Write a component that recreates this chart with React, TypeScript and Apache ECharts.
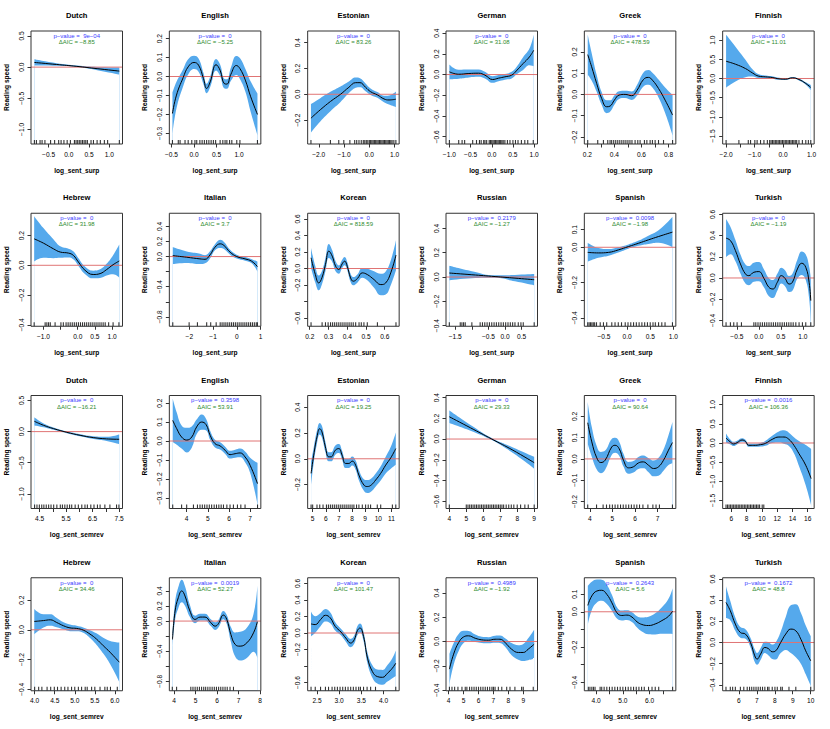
import React, { useEffect, useRef } from "react";
import * as echarts from "echarts";

const FONT = "'Liberation Sans', Arial, Helvetica, sans-serif";
const BAND = "#55a9ec";
const ZERO_LINE = "#e07474";

// ---------- y-axis settings per language ----------
const Y_DUTCH = { lim: [-1.235, 0.58], ticks: [-1, -0.5, 0, 0.5], labels: [-1, -0.5, 0, 0.5] };
const Y_ENGLISH = { lim: [-0.356, 0.24], ticks: [-0.3, -0.2, -0.1, 0, 0.1, 0.2], labels: [-0.3, -0.2, -0.1, 0, 0.1, 0.2] };
const Y_ESTONIAN = { lim: [-0.385, 0.49], ticks: [-0.2, 0, 0.2, 0.4], labels: [-0.2, 0, 0.2, 0.4] };
const Y_GERMAN = { lim: [-0.67, 0.42], ticks: [-0.6, -0.4, -0.2, 0, 0.2, 0.4], labels: [-0.6, -0.4, -0.2, 0, 0.2, 0.4] };
const Y_GREEK = { lim: [-0.233, 0.298], ticks: [-0.2, -0.1, 0, 0.1, 0.2], labels: [-0.2, -0.1, 0, 0.1, 0.2] };
const Y_FINNISH = { lim: [-1.71, 1.24], ticks: [-1.5, -1, -0.5, 0, 0.5, 1], labels: [-1.5, -1, -0.5, 0, 0.5, 1] };
const Y_HEBREW = { lim: [-0.41, 0.35], ticks: [-0.4, -0.2, 0, 0.2], labels: [-0.4, -0.2, 0, 0.2] };
const Y_ITALIAN = { lim: [-0.925, 0.575], ticks: [-0.8, -0.6, -0.4, -0.2, 0, 0.2, 0.4], labels: [-0.8, -0.4, 0, 0.2, 0.4] };
const Y_KOREAN = { lim: [-0.7, 0.67], ticks: [-0.6, -0.4, -0.2, 0, 0.2, 0.4, 0.6], labels: [-0.6, -0.2, 0, 0.2, 0.4, 0.6] };
const Y_RUSSIAN = { lim: [-0.405, 0.525], ticks: [-0.4, -0.2, 0, 0.2, 0.4], labels: [-0.4, -0.2, 0, 0.2, 0.4] };
const Y_SPANISH = { lim: [-0.448, 0.193], ticks: [-0.4, -0.3, -0.2, -0.1, 0, 0.1], labels: [-0.4, -0.2, 0, 0.1] };
const Y_TURKISH = { lim: [-0.455, 0.61], ticks: [-0.4, -0.2, 0, 0.2, 0.4, 0.6], labels: [-0.4, -0.2, 0, 0.2, 0.4, 0.6] };

// ---------- texts ----------
const P_VALUES = [
  "9e\u221204", "0", "0", "0", "0", "0",
  "0", "0", "0", "0.2179", "0.0098", "0",
  "0", "0.3598", "0", "0", "0", "0.0016",
  "0", "0.0019", "0", "0.4989", "0.2643", "0.1672",
];
const DELTA_AIC = [
  "\u22128.85", "\u22125.25", "83.26", "31.08", "478.59", "11.01",
  "31.98", "3.7", "818.59", "\u22121.27", "\u22121.98", "\u22121.19",
  "\u221216.21", "53.91", "19.25", "29.33", "90.64", "106.36",
  "34.46", "52.27", "101.47", "\u22121.92", "5.6", "48.8",
];

// ---------- Row 1 : log_sent_surp ----------
const dutchSurpX = [-0.85, -0.3, 0.2, 0.7, 1.25];
const dutchSurpFit = [0.075, 0.042, 0.012, -0.025, -0.064];
const dutchSurpLo = [0.025, 0.022, 0.0, -0.05, -0.12];
const dutchSurpHi = [0.125, 0.062, 0.024, 0.0, -0.01];
const dutchSurpRug = [-0.85, -0.8, -0.71, -0.66, -0.59, -0.45, -0.35, -0.25, -0.19, -0.12, -0.04, 0.04, 0.14, 0.18, 0.22, 0.26, 0.3, 0.34, 0.38, 0.42, 0.46, 0.55, 0.61, 0.7, 0.78, 0.88, 0.96, 1.25];

const englishSurpX = [-0.48, -0.39, -0.24, -0.13, 0.0, 0.1, 0.21, 0.28, 0.36, 0.49, 0.58, 0.67, 0.73, 0.82, 0.94, 1.02, 1.14, 1.26, 1.41];
const englishSurpFit = [-0.195, -0.098, -0.005, 0.051, 0.074, 0.06, -0.011, -0.063, -0.028, 0.062, 0.033, -0.037, -0.04, 0.012, 0.058, 0.042, -0.019, -0.107, -0.2];
const englishSurpLo = [-0.305, -0.168, -0.05, 0.011, 0.039, 0.025, -0.041, -0.088, -0.056, 0.032, 0.003, -0.062, -0.065, -0.023, 0.008, -0.013, -0.079, -0.187, -0.31];
const englishSurpHi = [-0.085, -0.028, 0.04, 0.091, 0.109, 0.095, 0.019, -0.038, 0.0, 0.092, 0.063, -0.012, -0.015, 0.047, 0.108, 0.097, 0.041, -0.027, -0.09];
const englishSurpRug = [-0.48, -0.35, -0.31, -0.2, -0.13, -0.05, 0.02, 0.06, 0.13, 0.18, 0.23, 0.28, 0.33, 0.38, 0.43, 0.48, 0.58, 0.64, 0.69, 0.73, 0.79, 0.84, 0.95, 1.02, 1.41];

const estonianSurpX = [-2.31, -1.94, -1.54, -1.14, -0.81, -0.54, -0.37, -0.15, 0.05, 0.32, 0.58, 0.78, 1.05];
const estonianSurpFit = [-0.185, -0.12, -0.056, 0.0, 0.054, 0.09, 0.09, 0.054, 0.02, -0.005, -0.036, -0.044, -0.038];
const estonianSurpLo = [-0.295, -0.21, -0.131, -0.06, 0.009, 0.05, 0.055, 0.024, -0.005, -0.027, -0.061, -0.079, -0.098];
const estonianSurpHi = [-0.075, -0.03, 0.019, 0.06, 0.099, 0.13, 0.125, 0.084, 0.045, 0.017, -0.011, -0.009, 0.022];
const estonianSurpRug = [-2.31, -1.54, -1.21, -1.01, -0.77, -0.58, -0.5, -0.41, -0.32, -0.24, -0.18, -0.12, -0.06, 0.0, 0.05, 0.1, 0.15, 0.2, 0.25, 0.3, 0.35, 0.4, 0.45, 0.5, 0.55, 0.6, 0.65, 0.7, 0.75, 0.8, 0.85, 0.9, 0.97, 1.05];

const germanSurpX = [-1.0, -0.78, -0.54, -0.31, -0.16, 0.02, 0.16, 0.31, 0.47, 0.58, 0.74, 0.89, 0.99];
const germanSurpFit = [0.026, 0.003, 0.01, 0.013, -0.006, -0.048, -0.035, -0.022, -0.006, 0.035, 0.106, 0.17, 0.234];
const germanSurpLo = [-0.045, -0.04, -0.028, -0.022, -0.038, -0.08, -0.065, -0.05, -0.038, 0.0, 0.045, 0.09, 0.08];
const germanSurpHi = [0.097, 0.046, 0.048, 0.048, 0.026, -0.016, -0.005, 0.006, 0.026, 0.07, 0.167, 0.25, 0.385];
const germanSurpRug = [-1.0, -0.78, -0.7, -0.64, -0.45, -0.36, -0.29, -0.25, -0.19, -0.16, -0.12, -0.06, -0.03, 0.0, 0.03, 0.06, 0.09, 0.12, 0.15, 0.18, 0.21, 0.24, 0.27, 0.31, 0.37, 0.43, 0.5, 0.56, 0.62, 0.7, 0.78, 0.85, 0.98];

const greekSurpX = [0.203, 0.232, 0.269, 0.306, 0.343, 0.368, 0.4, 0.435, 0.479, 0.528, 0.565, 0.615, 0.652, 0.681, 0.726, 0.775, 0.83];
const greekSurpFit = [0.187, 0.13, 0.052, -0.019, -0.058, -0.055, -0.027, -0.003, 0.0, -0.006, 0.017, 0.07, 0.08, 0.067, 0.028, -0.027, -0.097];
const greekSurpLo = [0.092, 0.065, 0.012, -0.049, -0.088, -0.082, -0.049, -0.021, -0.017, -0.026, -0.008, 0.037, 0.045, 0.032, -0.014, -0.087, -0.192];
const greekSurpHi = [0.282, 0.195, 0.092, 0.011, -0.028, -0.028, -0.005, 0.015, 0.017, 0.014, 0.042, 0.103, 0.115, 0.102, 0.07, 0.033, -0.002];
const greekSurpRug = [0.203, 0.277, 0.319, 0.351, 0.368, 0.38, 0.395, 0.41, 0.425, 0.44, 0.455, 0.47, 0.485, 0.5, 0.515, 0.53, 0.553, 0.573, 0.59, 0.622, 0.64, 0.664, 0.681, 0.701, 0.726, 0.763, 0.83];

const finnishSurpX = [-2.0, -1.67, -1.32, -1.08, -0.85, -0.61, -0.38, -0.14, 0.09, 0.33, 0.56, 0.8, 0.975];
const finnishSurpFit = [0.45, 0.373, 0.26, 0.148, 0.06, 0.043, 0.026, -0.009, -0.017, 0.017, -0.026, -0.13, -0.234];
const finnishSurpLo = [-0.24, -0.08, 0.03, 0.05, 0.01, 0.008, -0.004, -0.035, -0.04, -0.008, -0.05, -0.16, -0.3];
const finnishSurpHi = [1.14, 0.83, 0.49, 0.25, 0.11, 0.078, 0.056, 0.017, 0.006, 0.042, -0.002, -0.1, -0.17];
const finnishSurpRug = [-2.0, -1.55, -1.22, -1.14, -0.99, -0.91, -0.79, -0.67, -0.55, -0.47, -0.42, -0.37, -0.32, -0.27, -0.22, -0.17, -0.12, -0.07, -0.02, 0.03, 0.08, 0.13, 0.18, 0.23, 0.28, 0.33, 0.38, 0.43, 0.48, 0.56, 0.68, 0.8, 0.89, 0.975];

// ---------- Row 2 : log_sent_surp ----------
const hebrewSurpX = [-1.27, -1.0, -0.71, -0.51, -0.27, -0.13, 0.02, 0.21, 0.45, 0.65, 0.84, 1.03, 1.21];
const hebrewSurpFit = [0.178, 0.149, 0.111, 0.089, 0.082, 0.067, 0.022, -0.033, -0.062, -0.056, -0.029, 0.004, 0.029];
const hebrewSurpLo = [0.025, 0.05, 0.048, 0.05, 0.052, 0.04, -0.004, -0.058, -0.088, -0.085, -0.068, -0.06, -0.082];
const hebrewSurpHi = [0.33, 0.25, 0.175, 0.128, 0.112, 0.094, 0.048, -0.008, -0.036, -0.027, 0.01, 0.068, 0.14];
const hebrewSurpRug = [-1.27, -0.95, -0.9, -0.85, -0.8, -0.66, -0.49, -0.42, -0.34, -0.28, -0.22, -0.16, -0.1, -0.04, 0.02, 0.08, 0.14, 0.2, 0.26, 0.32, 0.38, 0.44, 0.5, 0.56, 0.62, 0.68, 0.74, 0.8, 0.9, 1.03, 1.2];

const italianSurpX = [-2.7, -2.11, -1.55, -1.34, -1.13, -0.92, -0.7, -0.54, -0.28, 0.0, 0.35, 0.63, 0.87];
const italianSurpFit = [0.013, -0.009, -0.031, -0.036, 0.022, 0.124, 0.169, 0.147, 0.058, 0.0, -0.031, -0.062, -0.133];
const italianSurpLo = [-0.1, -0.085, -0.1, -0.09, -0.025, 0.085, 0.115, 0.1, 0.025, -0.025, -0.055, -0.09, -0.2];
const italianSurpHi = [0.126, 0.067, 0.038, 0.018, 0.069, 0.163, 0.223, 0.194, 0.091, 0.025, -0.007, -0.034, -0.066];
const italianSurpRug = [-2.7, -2.01, -1.66, -1.27, -1.1, -0.87, -0.7, -0.62, -0.54, -0.46, -0.38, -0.3, -0.22, -0.14, -0.06, 0.02, 0.1, 0.18, 0.26, 0.34, 0.42, 0.5, 0.58, 0.66, 0.74, 0.82, 0.87];

const koreanSurpX = [0.207, 0.23, 0.248, 0.266, 0.284, 0.302, 0.32, 0.338, 0.355, 0.373, 0.386, 0.4, 0.418, 0.432, 0.454, 0.48, 0.507, 0.543, 0.579, 0.605, 0.632, 0.66];
const koreanSurpFit = [0.13, -0.073, -0.175, -0.106, 0.049, 0.211, 0.15, 0.028, -0.012, 0.057, 0.089, 0.028, -0.114, -0.154, -0.122, -0.053, -0.073, -0.134, -0.195, -0.175, -0.053, 0.163];
const koreanSurpLo = [0.01, -0.173, -0.265, -0.186, -0.031, 0.126, 0.08, -0.032, -0.062, 0.007, 0.039, -0.022, -0.164, -0.204, -0.172, -0.113, -0.143, -0.234, -0.325, -0.315, -0.203, -0.017];
const koreanSurpHi = [0.25, 0.027, -0.085, -0.026, 0.129, 0.296, 0.22, 0.088, 0.038, 0.107, 0.139, 0.078, -0.064, -0.104, -0.072, 0.007, -0.003, -0.034, -0.065, -0.035, 0.097, 0.343];
const koreanSurpRug = [0.207, 0.266, 0.284, 0.298, 0.311, 0.322, 0.333, 0.344, 0.355, 0.366, 0.377, 0.388, 0.399, 0.41, 0.421, 0.432, 0.445, 0.463, 0.475, 0.489, 0.507, 0.561, 0.66];

const russianSurpX = [-1.68, -1.0, -0.3, 0.3, 0.88];
const russianSurpFit = [0.033, 0.019, 0.004, -0.009, -0.022];
const russianSurpLo = [-0.027, -0.01, -0.006, -0.035, -0.068];
const russianSurpHi = [0.093, 0.048, 0.014, 0.017, 0.024];
const russianSurpRug = [-1.68, -1.35, -1.3, -1.25, -1.2, -1.0, -0.75, -0.68, -0.61, -0.54, -0.47, -0.4, -0.33, -0.26, -0.19, -0.12, -0.05, 0.02, 0.09, 0.16, 0.23, 0.3, 0.4, 0.48, 0.55, 0.88];

const spanishSurpX = [-0.85, -0.62, -0.4, -0.19, 0.03, 0.25, 0.46, 0.68, 0.98];
const spanishSurpFit = [-0.029, -0.032, -0.029, -0.015, 0.004, 0.023, 0.042, 0.061, 0.086];
const spanishSurpLo = [-0.082, -0.06, -0.048, -0.03, -0.008, 0.008, 0.018, 0.025, 0.0];
const spanishSurpHi = [0.026, -0.004, -0.01, 0.0, 0.016, 0.038, 0.066, 0.097, 0.172];
const spanishSurpRug = [-0.85, -0.82, -0.79, -0.76, -0.73, -0.7, -0.66, -0.58, -0.51, -0.44, -0.33, -0.26, -0.19, -0.12, -0.04, 0.02, 0.08, 0.14, 0.2, 0.26, 0.32, 0.38, 0.44, 0.5, 0.56, 0.61, 0.68, 0.75, 0.82, 0.98];

const turkishSurpX = [-0.746, -0.647, -0.533, -0.419, -0.305, -0.228, -0.114, 0.0, 0.114, 0.228, 0.32, 0.419, 0.51, 0.594, 0.685, 0.762, 0.876, 0.975, 1.066, 1.142, 1.18];
const turkishSurpFit = [0.375, 0.353, 0.258, 0.132, 0.038, 0.022, 0.054, 0.06, -0.003, -0.088, -0.104, -0.041, 0.022, -0.003, -0.057, -0.041, 0.085, 0.139, 0.101, -0.041, -0.214];
const turkishSurpLo = [0.195, 0.223, 0.158, 0.042, -0.052, -0.068, -0.036, -0.03, -0.088, -0.173, -0.189, -0.121, -0.053, -0.078, -0.132, -0.121, -0.005, 0.029, -0.019, -0.191, -0.424];
const turkishSurpHi = [0.555, 0.483, 0.358, 0.222, 0.128, 0.112, 0.144, 0.15, 0.082, -0.003, -0.019, 0.039, 0.097, 0.072, 0.018, 0.039, 0.175, 0.249, 0.221, 0.109, -0.004];
const turkishSurpRug = [-0.746, -0.647, -0.571, -0.495, -0.396, -0.114, -0.07, -0.02, 0.03, 0.08, 0.13, 0.18, 0.23, 0.28, 0.33, 0.38, 0.43, 0.48, 0.53, 0.58, 0.63, 0.68, 0.73, 0.78, 0.84, 0.914, 0.99, 1.066, 1.18];

// ---------- Row 3 : log_sent_semrev ----------
const dutchSemX = [4.3, 4.65, 5.025, 5.525, 6.025, 6.525, 7.025, 7.5];
const dutchSemFit = [0.166, 0.101, 0.048, -0.011, -0.059, -0.096, -0.117, -0.123];
const dutchSemLo = [0.1, 0.07, 0.028, -0.026, -0.076, -0.118, -0.15, -0.2];
const dutchSemHi = [0.232, 0.132, 0.068, 0.004, -0.042, -0.074, -0.084, -0.046];
const dutchSemRug = [4.31, 4.4, 4.49, 4.58, 4.66, 4.75, 4.84, 4.93, 5.03, 5.15, 5.28, 5.36, 5.45, 5.54, 5.63, 5.71, 5.84, 5.96, 6.09, 6.21, 6.3, 6.43, 6.55, 6.68, 6.78, 6.96, 7.15, 7.4, 7.49];

const englishSemX = [3.34, 3.53, 3.76, 4.0, 4.24, 4.47, 4.71, 4.92, 5.11, 5.34, 5.58, 5.82, 6.05, 6.29, 6.53, 6.76, 7.0, 7.35];
const englishSemFit = [0.109, 0.065, 0.021, 0.005, 0.021, 0.074, 0.1, 0.086, 0.03, -0.014, -0.026, -0.049, -0.072, -0.067, -0.063, -0.084, -0.128, -0.225];
const englishSemLo = [-0.005, -0.02, -0.04, -0.06, -0.035, 0.035, 0.06, 0.056, 0.006, -0.034, -0.045, -0.068, -0.092, -0.088, -0.086, -0.112, -0.168, -0.335];
const englishSemHi = [0.223, 0.15, 0.082, 0.07, 0.077, 0.113, 0.14, 0.116, 0.054, 0.006, -0.007, -0.03, -0.052, -0.046, -0.04, -0.056, -0.088, -0.115];
const englishSemRug = [3.34, 3.76, 4.0, 4.32, 4.51, 4.63, 4.74, 4.85, 4.96, 5.07, 5.18, 5.3, 5.41, 5.52, 5.63, 5.74, 5.9, 6.05, 6.21, 6.4, 6.56, 6.76, 7.35];

const estonianSemX = [4.88, 5.08, 5.33, 5.54, 5.71, 5.97, 6.22, 6.4, 6.73, 6.99, 7.24, 7.5, 7.76, 8.01, 8.27, 8.52, 8.9, 9.16, 9.46, 9.8, 10.18, 10.56, 10.95, 11.33];
const estonianSemFit = [-0.113, 0.028, 0.169, 0.233, 0.208, 0.092, 0.015, 0.015, 0.067, 0.079, 0.028, -0.036, -0.036, -0.018, -0.049, -0.126, -0.203, -0.215, -0.203, -0.164, -0.113, -0.049, 0.008, 0.079];
const estonianSemLo = [-0.203, -0.032, 0.119, 0.188, 0.163, 0.052, -0.02, -0.02, 0.032, 0.044, -0.007, -0.071, -0.071, -0.053, -0.084, -0.166, -0.248, -0.265, -0.253, -0.214, -0.168, -0.114, -0.077, -0.046];
const estonianSemHi = [-0.023, 0.088, 0.219, 0.278, 0.253, 0.132, 0.05, 0.05, 0.102, 0.114, 0.063, -0.001, -0.001, 0.017, -0.014, -0.086, -0.158, -0.165, -0.153, -0.114, -0.058, 0.016, 0.093, 0.204];
const estonianSemRug = [4.88, 5.0, 5.33, 5.54, 5.79, 6.05, 6.2, 6.35, 6.5, 6.65, 6.8, 6.95, 7.1, 7.25, 7.4, 7.55, 7.7, 7.85, 8.0, 8.14, 8.34, 8.52, 8.78, 9.03, 9.23, 9.41, 9.92, 10.18, 11.07, 11.33];

const germanSemX = [4.0, 5.25, 6.5, 7.75, 9.0];
const germanSemFit = [0.215, 0.108, 0.0, -0.108, -0.228];
const germanSemLo = [0.155, 0.08, -0.01, -0.135, -0.285];
const germanSemHi = [0.275, 0.136, 0.01, -0.081, -0.171];
const germanSemRug = [4.0, 5.0, 5.1, 5.2, 5.3, 5.4, 5.5, 5.6, 5.7, 5.8, 5.9, 6.0, 6.1, 6.2, 6.3, 6.4, 6.5, 6.6, 6.7, 6.8, 6.9, 7.0, 7.1, 7.2, 7.35, 7.5, 7.65, 7.8, 8.0, 8.2, 8.45, 8.65, 9.0];

const greekSemX = [3.91, 4.09, 4.31, 4.49, 4.68, 4.97, 5.12, 5.3, 5.49, 5.71, 5.93, 6.15, 6.37, 6.6, 6.82, 7.04, 7.26, 7.48, 7.655];
const greekSemFit = [0.17, 0.08, 0.005, -0.017, -0.006, 0.056, 0.064, 0.048, -0.006, -0.042, -0.037, -0.019, -0.014, -0.03, -0.045, -0.037, -0.006, 0.041, 0.077];
const greekSemLo = [0.073, 0.01, -0.05, -0.067, -0.051, 0.018, 0.029, 0.015, -0.036, -0.07, -0.064, -0.047, -0.044, -0.063, -0.082, -0.079, -0.056, -0.029, -0.02];
const greekSemHi = [0.267, 0.15, 0.06, 0.033, 0.039, 0.094, 0.099, 0.081, 0.024, -0.014, -0.01, 0.009, 0.016, 0.003, -0.008, 0.005, 0.044, 0.111, 0.174];
const greekSemRug = [3.91, 4.3, 4.59, 4.74, 4.88, 5.0, 5.12, 5.24, 5.36, 5.48, 5.6, 5.72, 5.84, 5.96, 6.08, 6.2, 6.35, 6.57, 6.79, 6.93, 7.08, 7.655];

const finnishSemX = [5.3, 5.87, 6.31, 6.75, 7.4, 7.84, 8.28, 8.94, 9.82, 10.47, 11.35, 12.23, 12.89, 13.54, 14.2, 14.86, 15.74, 16.45];
const finnishSemFit = [0.13, 0.026, -0.026, 0.009, 0.078, 0.043, -0.061, -0.061, -0.043, -0.009, 0.095, 0.156, 0.156, 0.095, -0.061, -0.278, -0.58, -0.93];
const finnishSemLo = [0.01, -0.04, -0.08, -0.04, 0.03, 0.0, -0.1, -0.1, -0.09, -0.075, 0.0, 0.01, -0.02, -0.08, -0.27, -0.6, -1.1, -1.62];
const finnishSemHi = [0.25, 0.09, 0.03, 0.06, 0.125, 0.085, -0.02, -0.02, 0.0, 0.06, 0.19, 0.3, 0.33, 0.27, 0.15, 0.05, -0.05, -0.15];
const finnishSemRug = [5.3, 5.5, 5.7, 5.9, 6.1, 6.3, 6.5, 6.7, 6.9, 7.1, 7.3, 7.5, 7.7, 7.9, 8.1, 8.3, 8.5, 8.7, 8.9, 9.1, 9.3, 9.5, 9.7, 10.04, 10.25];

// ---------- Row 4 : log_sent_semrev ----------
const hebrewSemX = [3.99, 4.22, 4.39, 4.55, 4.72, 4.88, 5.05, 5.21, 5.38, 5.54, 5.71, 5.88, 6.11];
const hebrewSemFit = [0.056, 0.062, 0.067, 0.049, 0.027, 0.013, 0.009, -0.002, -0.029, -0.062, -0.107, -0.151, -0.218];
const hebrewSemLo = [-0.03, 0.015, 0.027, 0.017, 0.003, -0.009, -0.01, -0.02, -0.055, -0.1, -0.16, -0.23, -0.35];
const hebrewSemHi = [0.14, 0.105, 0.105, 0.08, 0.05, 0.035, 0.027, 0.016, -0.003, -0.024, -0.054, -0.075, -0.086];
const hebrewSemRug = [4.0, 4.1, 4.18, 4.31, 4.4, 4.49, 4.57, 4.66, 4.75, 4.83, 4.92, 5.0, 5.09, 5.17, 5.26, 5.31, 5.42, 5.5, 5.63, 5.75, 5.81, 5.89, 6.06];

const italianSemX = [3.93, 4.05, 4.2, 4.36, 4.51, 4.74, 4.98, 5.21, 5.44, 5.71, 5.91, 6.06, 6.29, 6.45, 6.64, 6.84, 7.07, 7.38, 7.69, 7.87];
const italianSemFit = [-0.244, 0.133, 0.311, 0.4, 0.333, 0.133, 0.022, 0.053, 0.053, -0.022, -0.067, -0.036, 0.08, 0.022, -0.178, -0.311, -0.333, -0.289, -0.156, -0.009];
const italianSemLo = [-0.33, 0.013, 0.171, 0.25, 0.203, 0.053, -0.028, 0.008, 0.008, -0.067, -0.117, -0.086, 0.025, -0.038, -0.278, -0.471, -0.523, -0.489, -0.406, -0.489];
const italianSemHi = [-0.16, 0.253, 0.451, 0.55, 0.463, 0.213, 0.072, 0.098, 0.098, 0.023, -0.017, 0.014, 0.135, 0.082, -0.078, -0.151, -0.143, -0.089, 0.094, 0.471];
const italianSemRug = [3.92, 4.12, 4.78, 4.88, 4.98, 5.08, 5.18, 5.28, 5.38, 5.47, 5.57, 5.67, 5.77, 5.87, 5.97, 6.07, 6.17, 6.27, 6.37, 6.47, 6.6, 6.76];

const koreanSemX = [2.365, 2.46, 2.58, 2.69, 2.8, 2.91, 3.04, 3.15, 3.26, 3.34, 3.41, 3.47, 3.55, 3.64, 3.75, 3.86, 3.98, 4.09, 4.2, 4.277];
const koreanSemFit = [0.11, 0.102, 0.163, 0.215, 0.183, 0.081, 0.012, -0.061, -0.122, -0.081, 0.028, 0.061, -0.041, -0.305, -0.467, -0.528, -0.537, -0.488, -0.427, -0.366];
const koreanSemLo = [-0.04, 0.002, 0.083, 0.14, 0.118, 0.031, -0.028, -0.106, -0.172, -0.131, -0.027, 0.006, -0.096, -0.37, -0.542, -0.613, -0.627, -0.588, -0.547, -0.521];
const koreanSemHi = [0.26, 0.202, 0.243, 0.29, 0.248, 0.131, 0.052, -0.016, -0.072, -0.031, 0.083, 0.116, 0.014, -0.24, -0.392, -0.443, -0.447, -0.388, -0.307, -0.211];
const koreanSemRug = [2.365, 2.46, 2.58, 2.69, 2.76, 2.84, 2.9, 2.96, 3.02, 3.08, 3.14, 3.2, 3.26, 3.32, 3.38, 3.44, 3.48, 3.55, 3.63, 3.71, 3.82, 4.277];

const russianSemX = [4.05, 4.33, 4.67, 5.0, 5.33, 5.78, 6.22, 6.67, 7.11, 7.44, 7.78, 8.22, 8.67, 9.0, 9.33, 9.73];
const russianSemFit = [-0.227, -0.104, -0.008, 0.038, 0.047, 0.027, 0.014, 0.011, 0.019, 0.019, -0.008, -0.063, -0.09, -0.09, -0.063, -0.022];
const russianSemLo = [-0.352, -0.194, -0.078, -0.012, 0.007, -0.003, -0.011, -0.014, -0.009, -0.011, -0.043, -0.113, -0.15, -0.16, -0.153, -0.142];
const russianSemHi = [-0.102, -0.014, 0.062, 0.088, 0.087, 0.057, 0.039, 0.036, 0.047, 0.049, 0.027, -0.013, -0.03, -0.02, 0.027, 0.098];
const russianSemRug = [4.05, 4.22, 4.4, 4.62, 4.89, 5.11, 5.22, 5.4, 5.55, 5.7, 5.85, 6.0, 6.15, 6.3, 6.45, 6.6, 6.75, 6.9, 7.0, 7.11, 7.33, 7.56, 7.89, 8.11, 8.44, 8.89, 9.0, 9.67];

const spanishSemX = [3.69, 3.84, 4.03, 4.21, 4.4, 4.59, 4.78, 4.96, 5.15, 5.34, 5.53, 5.71, 5.96, 6.21, 6.46, 6.71, 6.86];
const spanishSemFit = [0.036, 0.09, 0.118, 0.122, 0.099, 0.051, -0.006, -0.021, -0.019, -0.03, -0.057, -0.072, -0.078, -0.069, -0.05, -0.025, 0.004];
const spanishSemLo = [-0.074, 0.01, 0.053, 0.062, 0.044, 0.006, -0.038, -0.049, -0.046, -0.058, -0.089, -0.112, -0.128, -0.129, -0.125, -0.125, -0.126];
const spanishSemHi = [0.146, 0.17, 0.183, 0.182, 0.154, 0.096, 0.026, 0.007, 0.008, -0.002, -0.025, -0.032, -0.028, -0.009, 0.025, 0.075, 0.134];
const spanishSemRug = [3.71, 3.77, 3.84, 3.9, 3.96, 4.15, 4.21, 4.3, 4.4, 4.5, 4.6, 4.7, 4.8, 4.9, 5.0, 5.1, 5.2, 5.3, 5.4, 5.5, 5.6, 5.7, 5.8, 5.96, 6.09, 6.21, 6.34, 6.86];

const turkishSemX = [5.29, 5.53, 5.81, 6.09, 6.37, 6.65, 6.89, 7.02, 7.21, 7.45, 7.64, 7.86, 8.05, 8.33, 8.61, 8.89, 9.17, 9.45, 9.72, 10.0];
const turkishSemFit = [0.378, 0.299, 0.173, 0.094, 0.079, 0.0, -0.126, -0.157, -0.11, -0.047, -0.057, -0.088, -0.079, 0.0, 0.079, 0.126, 0.11, 0.031, -0.079, -0.173];
const turkishSemLo = [0.23, 0.21, 0.11, 0.045, 0.035, -0.045, -0.185, -0.21, -0.165, -0.1, -0.12, -0.155, -0.16, -0.1, -0.07, -0.1, -0.14, -0.2, -0.3, -0.41];
const turkishSemHi = [0.53, 0.39, 0.236, 0.145, 0.125, 0.045, -0.065, -0.1, -0.055, 0.006, 0.005, -0.02, 0.0, 0.1, 0.24, 0.35, 0.36, 0.28, 0.16, 0.06];
const turkishSemRug = [5.29, 5.53, 5.66, 5.81, 6.09, 6.28, 6.47, 6.6, 6.72, 6.84, 6.96, 7.08, 7.2, 7.32, 7.45, 7.6, 7.68, 7.86, 8.01, 8.14, 8.33, 8.42, 8.79, 9.17, 10.0];

// ---------- panel table ----------
const SURP = "log_sent_surp";
const SEM = "log_sent_semrev";

const PANELS = [
  { name: "Dutch", xName: SURP, xlim: [-0.934, 1.328], xTicks: [-0.5, 0, 0.5, 1], xLabels: [-0.5, 0, 0.5, 1], d: 1, y: Y_DUTCH, x: dutchSurpX, fit: dutchSurpFit, lo: dutchSurpLo, hi: dutchSurpHi, rug: dutchSurpRug },
  { name: "English", xName: SURP, xlim: [-0.549, 1.485], xTicks: [-0.5, 0, 0.5, 1], xLabels: [-0.5, 0, 0.5, 1], d: 1, y: Y_ENGLISH, x: englishSurpX, fit: englishSurpFit, lo: englishSurpLo, hi: englishSurpHi, rug: englishSurpRug },
  { name: "Estonian", xName: SURP, xlim: [-2.44, 1.18], xTicks: [-2, -1, 0, 1], xLabels: [-2, -1, 0, 1], d: 1, y: Y_ESTONIAN, x: estonianSurpX, fit: estonianSurpFit, lo: estonianSurpLo, hi: estonianSurpHi, rug: estonianSurpRug },
  { name: "German", xName: SURP, xlim: [-1.08, 1.08], xTicks: [-1, -0.5, 0, 0.5, 1], xLabels: [-1, -0.5, 0, 0.5, 1], d: 1, y: Y_GERMAN, x: germanSurpX, fit: germanSurpFit, lo: germanSurpLo, hi: germanSurpHi, rug: germanSurpRug },
  { name: "Greek", xName: SURP, xlim: [0.178, 0.854], xTicks: [0.2, 0.3, 0.4, 0.5, 0.6, 0.7, 0.8], xLabels: [0.2, 0.4, 0.6, 0.8], d: 1, y: Y_GREEK, x: greekSurpX, fit: greekSurpFit, lo: greekSurpLo, hi: greekSurpHi, rug: greekSurpRug },
  { name: "Finnish", xName: SURP, xlim: [-2.12, 1.094], xTicks: [-2, -1.5, -1, -0.5, 0, 0.5, 1], xLabels: [-2, -1, 0, 1], d: 1, y: Y_FINNISH, x: finnishSurpX, fit: finnishSurpFit, lo: finnishSurpLo, hi: finnishSurpHi, rug: finnishSurpRug },

  { name: "Hebrew", xName: SURP, xlim: [-1.362, 1.304], xTicks: [-1, -0.5, 0, 0.5, 1], xLabels: [-1, 0, 0.5, 1], d: 1, y: Y_HEBREW, x: hebrewSurpX, fit: hebrewSurpFit, lo: hebrewSurpLo, hi: hebrewSurpHi, rug: hebrewSurpRug },
  { name: "Italian", xName: SURP, xlim: [-2.845, 1.014], xTicks: [-2, -1, 0, 1], xLabels: [-2, -1, 0, 1], d: 0, y: Y_ITALIAN, x: italianSurpX, fit: italianSurpFit, lo: italianSurpLo, hi: italianSurpHi, rug: italianSurpRug },
  { name: "Korean", xName: SURP, xlim: [0.189, 0.677], xTicks: [0.2, 0.3, 0.4, 0.5, 0.6], xLabels: [0.2, 0.3, 0.4, 0.5, 0.6], d: 1, y: Y_KOREAN, x: koreanSurpX, fit: koreanSurpFit, lo: koreanSurpLo, hi: koreanSurpHi, rug: koreanSurpRug },
  { name: "Russian", xName: SURP, xlim: [-1.78, 0.98], xTicks: [-1.5, -1, -0.5, 0, 0.5], xLabels: [-1.5, -0.5, 0, 0.5], d: 1, y: Y_RUSSIAN, x: russianSurpX, fit: russianSurpFit, lo: russianSurpLo, hi: russianSurpHi, rug: russianSurpRug },
  { name: "Spanish", xName: SURP, xlim: [-0.923, 1.053], xTicks: [-0.5, 0, 0.5, 1], xLabels: [-0.5, 0, 0.5, 1], d: 1, y: Y_SPANISH, x: spanishSurpX, fit: spanishSurpFit, lo: spanishSurpLo, hi: spanishSurpHi, rug: spanishSurpRug },
  { name: "Turkish", xName: SURP, xlim: [-0.823, 1.257], xTicks: [-0.5, 0, 0.5, 1], xLabels: [-0.5, 0, 0.5, 1], d: 1, y: Y_TURKISH, x: turkishSurpX, fit: turkishSurpFit, lo: turkishSurpLo, hi: turkishSurpHi, rug: turkishSurpRug },

  { name: "Dutch", xName: SEM, xlim: [4.175, 7.625], xTicks: [4.5, 5, 5.5, 6, 6.5, 7, 7.5], xLabels: [4.5, 5.5, 6.5, 7.5], d: 1, y: Y_DUTCH, x: dutchSemX, fit: dutchSemFit, lo: dutchSemLo, hi: dutchSemHi, rug: dutchSemRug },
  { name: "English", xName: SEM, xlim: [3.18, 7.506], xTicks: [4, 5, 6, 7], xLabels: [4, 5, 6, 7], d: 0, y: Y_ENGLISH, x: englishSemX, fit: englishSemFit, lo: englishSemLo, hi: englishSemHi, rug: englishSemRug },
  { name: "Estonian", xName: SEM, xlim: [4.62, 11.586], xTicks: [5, 6, 7, 8, 9, 10, 11], xLabels: [5, 6, 7, 8, 9, 10, 11], d: 0, y: Y_ESTONIAN, x: estonianSemX, fit: estonianSemFit, lo: estonianSemLo, hi: estonianSemHi, rug: estonianSemRug },
  { name: "German", xName: SEM, xlim: [3.805, 9.195], xTicks: [4, 5, 6, 7, 8, 9], xLabels: [4, 5, 6, 7, 8, 9], d: 0, y: Y_GERMAN, x: germanSemX, fit: germanSemFit, lo: germanSemLo, hi: germanSemHi, rug: germanSemRug },
  { name: "Greek", xName: SEM, xlim: [3.76, 7.805], xTicks: [4, 5, 6, 7], xLabels: [4, 5, 6, 7], d: 0, y: Y_GREEK, x: greekSemX, fit: greekSemFit, lo: greekSemLo, hi: greekSemHi, rug: greekSemRug },
  { name: "Finnish", xName: SEM, xlim: [4.86, 16.85], xTicks: [6, 8, 10, 12, 14, 16], xLabels: [6, 8, 10, 12, 14, 16], d: 0, y: Y_FINNISH, x: finnishSemX, fit: finnishSemFit, lo: finnishSemLo, hi: finnishSemHi, rug: finnishSemRug },

  { name: "Hebrew", xName: SEM, xlim: [3.909, 6.19], xTicks: [4, 4.5, 5, 5.5, 6], xLabels: [4, 4.5, 5, 5.5, 6], d: 1, y: Y_HEBREW, x: hebrewSemX, fit: hebrewSemFit, lo: hebrewSemLo, hi: hebrewSemHi, rug: hebrewSemRug },
  { name: "Italian", xName: SEM, xlim: [3.783, 8.03], xTicks: [4, 5, 6, 7, 8], xLabels: [4, 5, 6, 7, 8], d: 0, y: Y_ITALIAN, x: italianSemX, fit: italianSemFit, lo: italianSemLo, hi: italianSemHi, rug: italianSemRug },
  { name: "Korean", xName: SEM, xlim: [2.289, 4.354], xTicks: [2.5, 3, 3.5, 4], xLabels: [2.5, 3, 3.5, 4], d: 1, y: Y_KOREAN, x: koreanSemX, fit: koreanSemFit, lo: koreanSemLo, hi: koreanSemHi, rug: koreanSemRug },
  { name: "Russian", xName: SEM, xlim: [3.82, 9.955], xTicks: [4, 5, 6, 7, 8, 9], xLabels: [4, 5, 6, 7, 8, 9], d: 0, y: Y_RUSSIAN, x: russianSemX, fit: russianSemFit, lo: russianSemLo, hi: russianSemHi, rug: russianSemRug },
  { name: "Spanish", xName: SEM, xlim: [3.56, 6.98], xTicks: [4, 4.5, 5, 5.5, 6, 6.5], xLabels: [4, 5, 6], d: 1, y: Y_SPANISH, x: spanishSemX, fit: spanishSemFit, lo: spanishSemLo, hi: spanishSemHi, rug: spanishSemRug },
  { name: "Turkish", xName: SEM, xlim: [5.106, 10.19], xTicks: [6, 7, 8, 9, 10], xLabels: [6, 7, 8, 9, 10], d: 0, y: Y_TURKISH, x: turkishSemX, fit: turkishSemFit, lo: turkishSemLo, hi: turkishSemHi, rug: turkishSemRug },
];

// ---------- layout ----------
const W = 830;
const H = 729;
const CELL_W = W / 6;
const CELL_H = H / 4;
const BOX_L = 31;
const BOX_T = 31;
const BOX_W = 91.5;
const BOX_H = 113;

function fmt(v: number, d: number): string {
  const s = Math.abs(v) < 1e-9 ? (0).toFixed(d) : v.toFixed(d);
  return s.replace("-", "\u2212");
}

function buildOption() {
  const grid: any[] = [];
  const xAxis: any[] = [];
  const yAxis: any[] = [];
  const series: any[] = [];
  const graphic: any[] = [];

  PANELS.forEach((p, i) => {
    const col = i % 6;
    const row = Math.floor(i / 6);
    const left = col * CELL_W + BOX_L;
    const top = row * CELL_H + BOX_T;
    const cx = left + BOX_W / 2;

    grid.push({ left, top, width: BOX_W, height: BOX_H, show: false, containLabel: false });

    xAxis.push({
      type: "value", gridIndex: i, min: p.xlim[0], max: p.xlim[1],
      name: p.xName, nameLocation: "middle", nameGap: 22.5,
      nameTextStyle: { fontFamily: FONT, fontSize: 6.6, fontWeight: "bold", color: "#000" },
      axisLine: { show: false, onZero: false },
      splitLine: { show: false },
      axisTick: { show: true, length: 3.5, inside: false, lineStyle: { color: "#000", width: 0.8 }, customValues: p.xTicks },
      axisLabel: {
        show: true, customValues: p.xLabels, margin: 6.5, fontFamily: FONT, fontSize: 6.6, color: "#000",
        formatter: (v: number) => fmt(v, p.d),
      },
    });

    yAxis.push({
      type: "value", gridIndex: i, min: p.y.lim[0], max: p.y.lim[1],
      name: "Reading speed", nameLocation: "middle", nameGap: 21, nameRotate: 90,
      nameTextStyle: { fontFamily: FONT, fontSize: 6.6, fontWeight: "bold", color: "#000" },
      axisLine: { show: false, onZero: false },
      splitLine: { show: false },
      axisTick: { show: true, length: 3.5, inside: false, lineStyle: { color: "#000", width: 0.8 }, customValues: p.y.ticks },
      axisLabel: {
        show: true, customValues: p.y.labels, rotate: 90, margin: 6.5, fontFamily: FONT, fontSize: 6.6, color: "#000",
        formatter: (v: number) => fmt(v, 1),
      },
    });

    const n = Math.min(p.x.length, p.fit.length, p.lo.length, p.hi.length);
    const upper: number[][] = [];
    const lower: number[][] = [];
    const fit: number[][] = [];
    for (let k = 0; k < n; k++) {
      upper.push([p.x[k], p.hi[k]]);
      lower.push([p.x[k], p.lo[k]]);
      fit.push([p.x[k], p.fit[k]]);
    }

    // confidence band: upper edge filled down to the axis, then lower edge filled white
    series.push({
      type: "line", xAxisIndex: i, yAxisIndex: i, data: upper,
      smooth: 0.45, symbol: "none", silent: true, z: 2,
      lineStyle: { width: 0, opacity: 0 },
      areaStyle: { color: BAND, opacity: 1, origin: "start" },
    });
    series.push({
      type: "line", xAxisIndex: i, yAxisIndex: i, data: lower,
      smooth: 0.45, symbol: "none", silent: true, z: 3,
      lineStyle: { width: 0, opacity: 0 },
      areaStyle: { color: "#ffffff", opacity: 1, origin: "start" },
    });
    // zero reference line across the axis range
    series.push({
      type: "line", xAxisIndex: i, yAxisIndex: i,
      data: [[p.xlim[0], 0], [p.xlim[1], 0]],
      symbol: "none", silent: true, z: 4,
      lineStyle: { color: ZERO_LINE, width: 1 },
    });
    // fitted smooth
    series.push({
      type: "line", xAxisIndex: i, yAxisIndex: i, data: fit,
      smooth: 0.45, symbol: "none", silent: true, z: 5,
      lineStyle: { color: "#000", width: 1 },
    });
    // rug
    series.push({
      type: "scatter", xAxisIndex: i, yAxisIndex: i,
      data: p.rug.map((v) => [v, p.y.lim[0]]),
      symbol: "rect", symbolSize: [1.1, 4], symbolOffset: [0, -2],
      itemStyle: { color: "#000" }, silent: true, clip: false, z: 6,
    });

    // box
    graphic.push({
      type: "rect", silent: true, z: 100,
      shape: { x: left, y: top, width: BOX_W, height: BOX_H },
      style: { fill: "none", stroke: "#333", lineWidth: 1 },
    });
    graphic.push({
      type: "text", x: cx, y: row * CELL_H + 15.6, silent: true, z: 100,
      style: {
        text: p.name, font: `bold 7.6px ${FONT}`, fill: "#000",
        textAlign: "center", textVerticalAlign: "middle", align: "center", verticalAlign: "middle",
      },
    });
    graphic.push({
      type: "text", x: cx, y: top + 4.8, silent: true, z: 100,
      style: {
        text: "p\u2212value =  " + P_VALUES[i], font: `6px ${FONT}`, fill: "#3a3aff",
        textAlign: "center", textVerticalAlign: "middle", align: "center", verticalAlign: "middle",
      },
    });
    graphic.push({
      type: "text", x: cx, y: top + 11.2, silent: true, z: 100,
      style: {
        text: "\u0394AIC = " + DELTA_AIC[i], font: `6px ${FONT}`, fill: "#2e8b2e",
        textAlign: "center", textVerticalAlign: "middle", align: "center", verticalAlign: "middle",
      },
    });
  });

  return {
    animation: false,
    backgroundColor: "#fff",
    textStyle: { fontFamily: FONT },
    grid, xAxis, yAxis, series, graphic,
  };
}

export default function App() {
  const ref = useRef<HTMLDivElement>(null);
  useEffect(() => {
    if (!ref.current) return;
    const chart = echarts.init(ref.current, undefined, { renderer: "svg", width: W, height: H });
    chart.setOption(buildOption() as any);
    return () => chart.dispose();
  }, []);
  return (
    <div
      ref={ref}
      style={{ position: "absolute", left: 0, top: 0, width: W, height: H, background: "#fff" }}
    />
  );
}
